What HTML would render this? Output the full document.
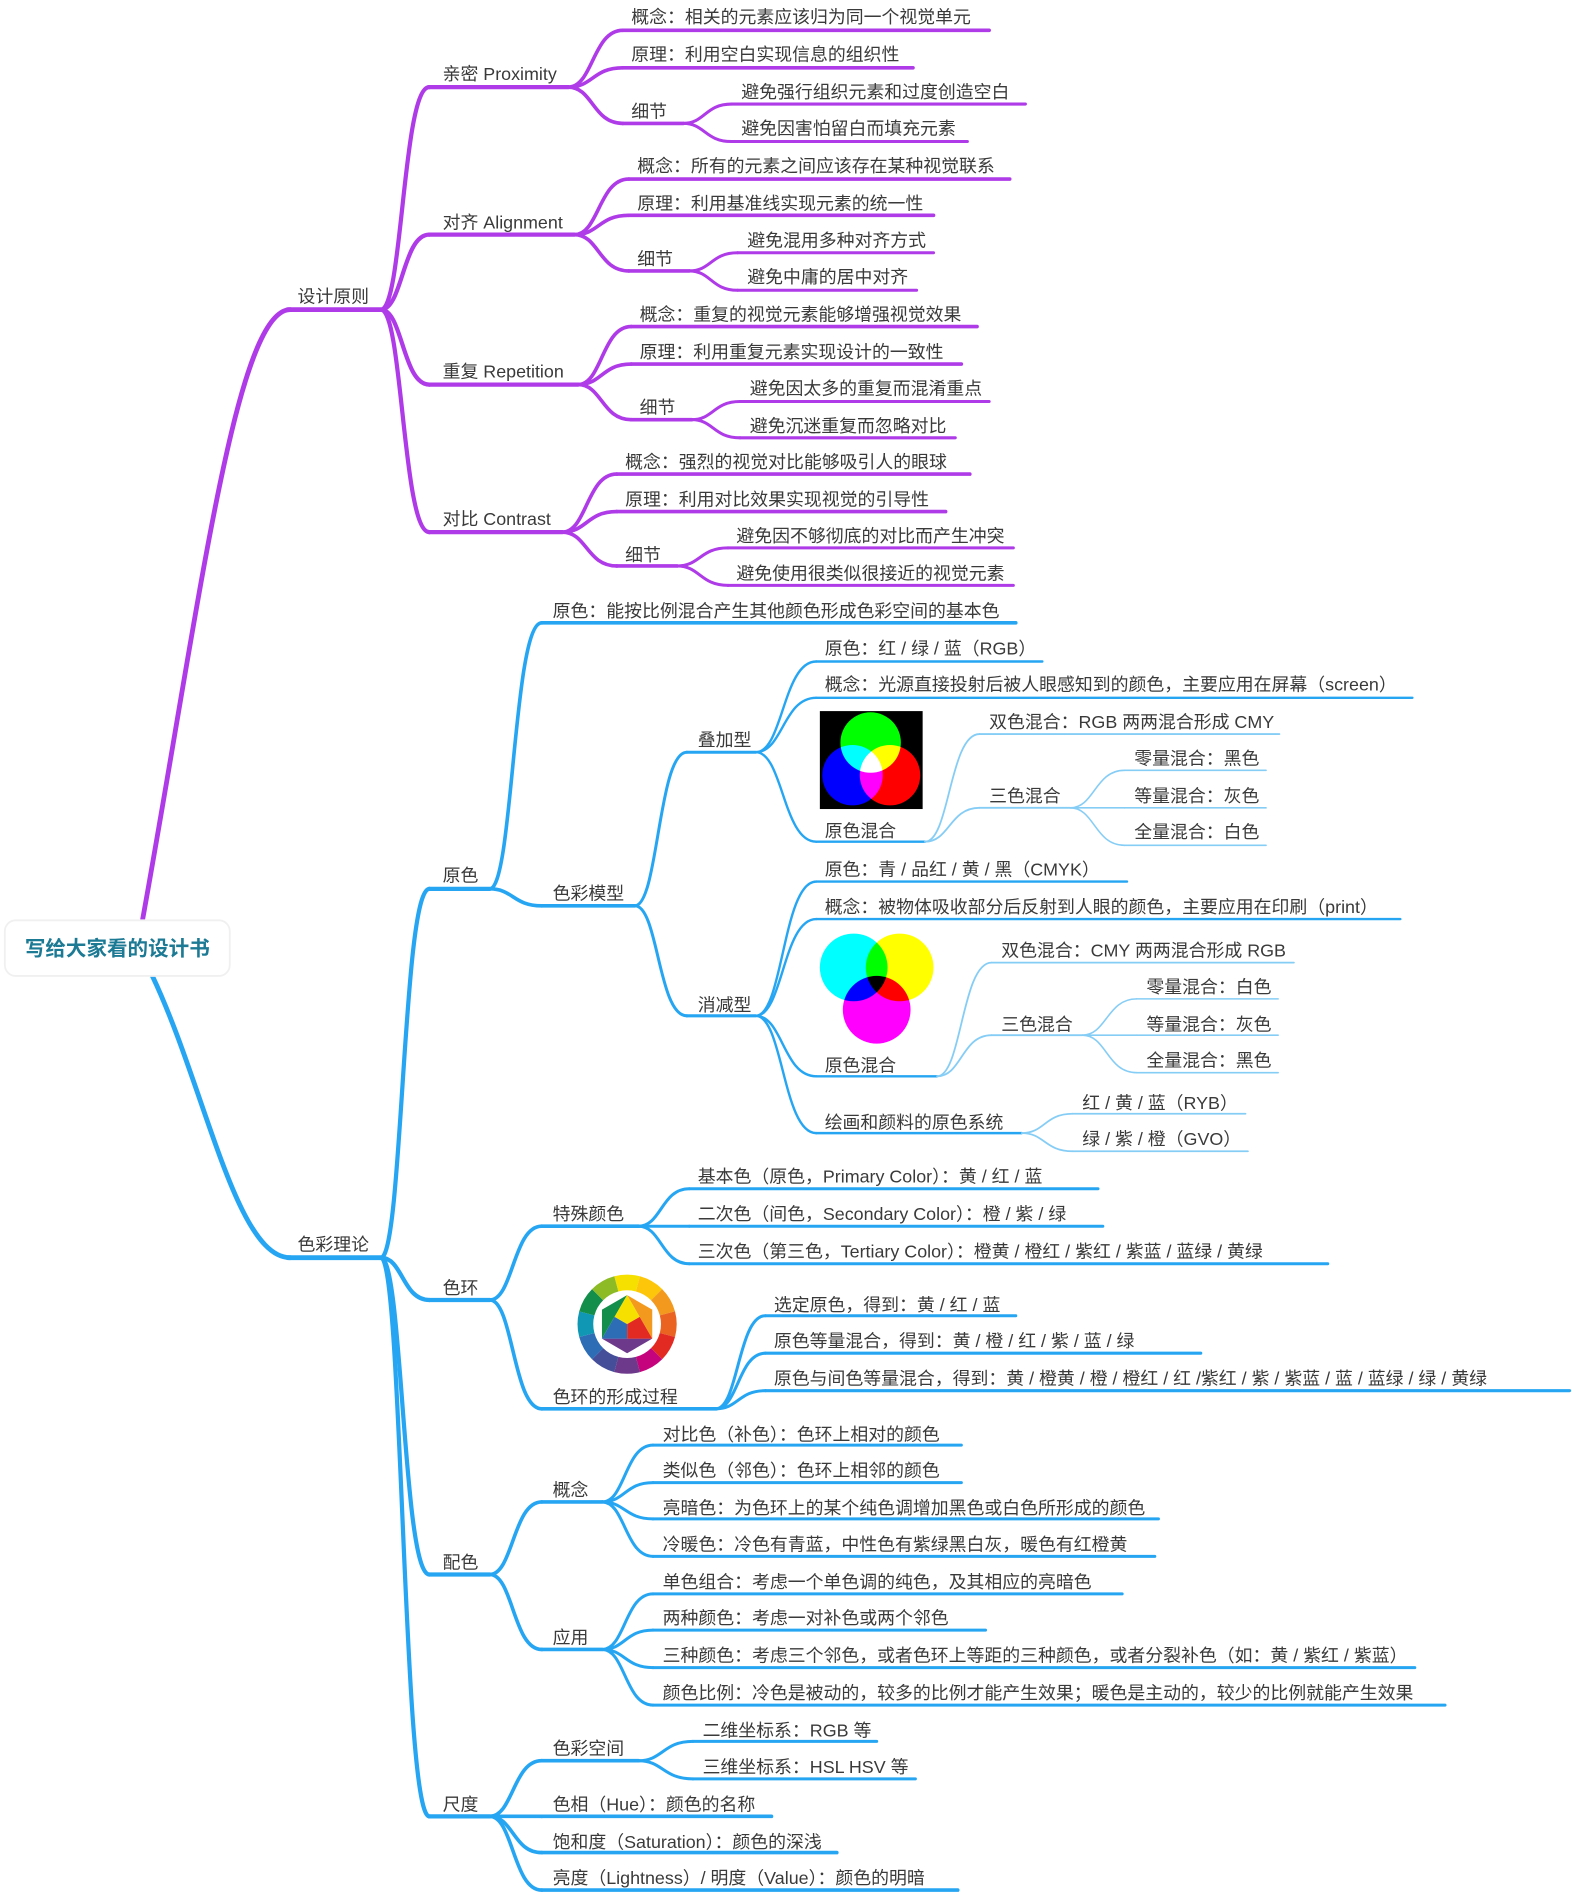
<!DOCTYPE html>
<html><head><meta charset="utf-8"><style>
html,body{margin:0;padding:0;background:#fff;}
#wrap{width:1572px;height:1895px;overflow:hidden;position:relative;}
svg{position:absolute;left:0;top:0;}
text{font-family:"Liberation Sans","Noto Sans CJK SC",sans-serif;font-size:14.8px;fill:#3a3a3a;}
</style></head><body><div id="wrap">
<svg id="s" width="1572" height="1895" viewBox="0 0 1300 1567">
<g id="edges" fill="none" stroke-linecap="round"></g>
<rect x="678" y="588" width="85" height="81" fill="#000"/>
<g style="isolation:isolate">
<circle cx="720" cy="614" r="25" fill="#00ff00" style="mix-blend-mode:screen"/>
<circle cx="705" cy="641" r="25" fill="#0000ff" style="mix-blend-mode:screen"/>
<circle cx="736" cy="641" r="25" fill="#ff0000" style="mix-blend-mode:screen"/>
</g>
<g style="isolation:isolate">
<circle cx="706" cy="800" r="28" fill="#00ffff" style="mix-blend-mode:multiply"/>
<circle cx="744" cy="800" r="28" fill="#ffff00" style="mix-blend-mode:multiply"/>
<circle cx="725" cy="835" r="28" fill="#ff00ff" style="mix-blend-mode:multiply"/>
</g>
<g id="wheel"></g>
<rect x="4" y="761" width="186" height="46" rx="9" fill="#fff" stroke="#f0f0f0" stroke-width="1.5"/>
<text x="97" y="790" text-anchor="middle" style="font-size:17px;font-weight:bold;fill:#1d7a94">写给大家看的设计书</text>

<text x="246" y="250">设计原则</text>
<text x="366" y="66">亲密 Proximity</text>
<text x="522" y="19">概念：相关的元素应该归为同一个视觉单元</text>
<text x="522" y="50">原理：利用空白实现信息的组织性</text>
<text x="522" y="97">细节</text>
<text x="613" y="81">避免强行组织元素和过度创造空白</text>
<text x="613" y="111">避免因害怕留白而填充元素</text>
<text x="366" y="189">对齐 Alignment</text>
<text x="527" y="142">概念：所有的元素之间应该存在某种视觉联系</text>
<text x="527" y="173">原理：利用基准线实现元素的统一性</text>
<text x="527" y="219">细节</text>
<text x="618" y="204">避免混用多种对齐方式</text>
<text x="618" y="234">避免中庸的居中对齐</text>
<text x="366" y="312">重复 Repetition</text>
<text x="529" y="265">概念：重复的视觉元素能够增强视觉效果</text>
<text x="529" y="296">原理：利用重复元素实现设计的一致性</text>
<text x="529" y="342">细节</text>
<text x="620" y="326">避免因太多的重复而混淆重点</text>
<text x="620" y="357">避免沉迷重复而忽略对比</text>
<text x="366" y="434">对比 Contrast</text>
<text x="517" y="387">概念：强烈的视觉对比能够吸引人的眼球</text>
<text x="517" y="418">原理：利用对比效果实现视觉的引导性</text>
<text x="517" y="464">细节</text>
<text x="609" y="448">避免因不够彻底的对比而产生冲突</text>
<text x="609" y="479">避免使用很类似很接近的视觉元素</text>

<text x="246" y="1034">色彩理论</text>
<text x="366" y="729">原色</text>
<text x="457" y="510">原色：能按比例混合产生其他颜色形成色彩空间的基本色</text>
<text x="457" y="744">色彩模型</text>
<text x="577" y="617">叠加型</text>
<text x="682" y="541">原色：红 / 绿 / 蓝（RGB）</text>
<text x="682" y="571">概念：光源直接投射后被人眼感知到的颜色，主要应用在屏幕（screen）</text>
<text x="682" y="692">原色混合</text>
<text x="818" y="602">双色混合：RGB 两两混合形成 CMY</text>
<text x="818" y="663">三色混合</text>
<text x="938" y="632">零量混合：黑色</text>
<text x="938" y="663">等量混合：灰色</text>
<text x="938" y="693">全量混合：白色</text>
<text x="577" y="836">消减型</text>
<text x="682" y="724">原色：青 / 品红 / 黄 / 黑（CMYK）</text>
<text x="682" y="755">概念：被物体吸收部分后反射到人眼的颜色，主要应用在印刷（print）</text>
<text x="682" y="886">原色混合</text>
<text x="828" y="791">双色混合：CMY 两两混合形成 RGB</text>
<text x="828" y="852">三色混合</text>
<text x="948" y="821">零量混合：白色</text>
<text x="948" y="852">等量混合：灰色</text>
<text x="948" y="882">全量混合：黑色</text>
<text x="682" y="933">绘画和颜料的原色系统</text>
<text x="895" y="917">红 / 黄 / 蓝（RYB）</text>
<text x="895" y="947">绿 / 紫 / 橙（GVO）</text>
<text x="366" y="1070">色环</text>
<text x="457" y="1009">特殊颜色</text>
<text x="577" y="978">基本色（原色，Primary Color）：黄 / 红 / 蓝</text>
<text x="577" y="1009">二次色（间色，Secondary Color）：橙 / 紫 / 绿</text>
<text x="577" y="1040">三次色（第三色，Tertiary Color）：橙黄 / 橙红 / 紫红 / 紫蓝 / 蓝绿 / 黄绿</text>
<text x="457" y="1160">色环的形成过程</text>
<text x="640" y="1084">选定原色，得到：黄 / 红 / 蓝</text>
<text x="640" y="1114">原色等量混合，得到：黄 / 橙 / 红 / 紫 / 蓝 / 绿</text>
<text x="640" y="1145">原色与间色等量混合，得到：黄 / 橙黄 / 橙 / 橙红 / 红 /紫红 / 紫 / 紫蓝 / 蓝 / 蓝绿 / 绿 / 黄绿</text>
<text x="366" y="1297">配色</text>
<text x="457" y="1237">概念</text>
<text x="548" y="1191">对比色（补色）：色环上相对的颜色</text>
<text x="548" y="1221">类似色（邻色）：色环上相邻的颜色</text>
<text x="548" y="1252">亮暗色：为色环上的某个纯色调增加黑色或白色所形成的颜色</text>
<text x="548" y="1282">冷暖色：冷色有青蓝，中性色有紫绿黑白灰，暖色有红橙黄</text>
<text x="457" y="1359">应用</text>
<text x="548" y="1313">单色组合：考虑一个单色调的纯色，及其相应的亮暗色</text>
<text x="548" y="1343">两种颜色：考虑一对补色或两个邻色</text>
<text x="548" y="1374">三种颜色：考虑三个邻色，或者色环上等距的三种颜色，或者分裂补色（如：黄 / 紫红 / 紫蓝）</text>
<text x="548" y="1405">颜色比例：冷色是被动的，较多的比例才能产生效果；暖色是主动的，较少的比例就能产生效果</text>
<text x="366" y="1497">尺度</text>
<text x="457" y="1451">色彩空间</text>
<text x="581" y="1436">二维坐标系：RGB 等</text>
<text x="581" y="1466">三维坐标系：HSL HSV 等</text>
<text x="457" y="1497">色相（Hue）：颜色的名称</text>
<text x="457" y="1528">饱和度（Saturation）：颜色的深浅</text>
<text x="457" y="1558">亮度（Lightness）/ 明度（Value）：颜色的明暗</text>
</svg>
</div>
<script>
var P='#ae3ae8',B='#26a6f2',L='#86cdf6';
var N={};
var D=[
[1,null,256,238,315,4,P],
[2,1,72,355,470,3.5,P],[3,2,25,515,818,3,P],[4,2,56,515,755,3,P],[5,2,102,515,565,3,P],[6,5,86,605,848,2.5,P],[7,5,117,605,800,2.5,P],
[8,1,194,355,475,3.5,P],[9,8,148,520,835,3,P],[10,8,178,520,772,3,P],[11,8,224,520,570,3,P],[12,11,209,610,772,2.5,P],[13,11,240,610,758,2.5,P],
[14,1,318,355,478,3.5,P],[15,14,270,522,808,3,P],[16,14,301,522,795,3,P],[17,14,347,522,572,3,P],[18,17,332,612,818,2.5,P],[19,17,362,612,790,2.5,P],
[20,1,440,355,465,3.5,P],[21,20,392,510,802,3,P],[22,20,423,510,782,3,P],[23,20,468,510,560,3,P],[24,23,453,602,838,2.5,P],[25,23,484,602,838,2.5,P],
[30,null,1040,238,315,4,B],
[31,30,735,355,405,3.5,B],[32,31,515,448,840,3,B],[33,31,749,448,525,3,B],
[34,33,622,568,625,2.5,B],[35,34,547,675,862,2,B],[36,34,577,675,1168,2,B],[37,34,696,675,765,2,B],
[38,37,607,810,1058,1.5,L],[39,37,668,810,885,1.5,L],[40,39,637,930,1047,1.3,L],[41,39,668,930,1047,1.3,L],[42,39,699,930,1047,1.3,L],
[43,33,840,568,625,2.5,B],[44,43,729,675,932,2,B],[45,43,760,675,1158,2,B],[46,43,890,675,775,2,B],[47,43,937,675,845,2,B],
[48,46,796,820,1070,1.5,L],[49,46,856,820,895,1.5,L],[50,49,826,940,1057,1.3,L],[51,49,856,940,1057,1.3,L],[52,49,887,940,1057,1.3,L],
[53,47,921,887,1030,1.5,L],[54,47,952,887,1032,1.5,L],
[55,30,1075,355,405,3.5,B],[56,55,1014,448,528,3,B],[57,56,983,570,908,2.5,B],[58,56,1014,570,912,2.5,B],[59,56,1045,570,1098,2.5,B],
[60,55,1165,448,592,3,B],[61,60,1088,633,840,2.5,B],[62,60,1119,633,993,2.5,B],[63,60,1150,633,1298,2.5,B],
[64,30,1302,355,405,3.5,B],[65,64,1242,448,498,3,B],[66,65,1195,540,795,2.5,B],[67,65,1226,540,795,2.5,B],[68,65,1256,540,958,2.5,B],[69,65,1287,540,955,2.5,B],
[70,64,1364,448,498,3,B],[71,70,1318,540,928,2.5,B],[72,70,1348,540,815,2.5,B],[73,70,1379,540,1170,2.5,B],[74,70,1410,540,1195,2.5,B],
[75,30,1502,355,405,3.5,B],[76,75,1456,448,528,3,B],[77,76,1440,573,725,2.5,B],[78,76,1471,573,757,2.5,B],
[79,75,1502,448,638,3,B],[80,75,1532,448,692,3,B],[81,75,1563,448,792,3,B]
];
var g=document.getElementById('edges'),h='';
function p(d,c,w){h+='<path d="'+d+'" stroke="'+c+'" stroke-width="'+w+'"/>';}
D.forEach(function(n){N[n[0]]=n;});
D.forEach(function(n){
 var y=n[2],x0=n[3],x1=n[4],w=n[5],c=n[6];
 p('M'+x0+' '+y+'H'+x1,c,w);
 if(n[1]!==null){var q=N[n[1]],px=q[4],py=q[2],m=px+(x0-px)*0.45;
  p('M'+px+' '+py+'C'+m+' '+py+','+m+' '+y+','+x0+' '+y,c,w);}
});
p('M118 760C165 500,195 256,240 256',P,4);
p('M126 807C170 900,195 1040,240 1040',B,4);
g.innerHTML=h;
var cx=518.6,cy=1095,R=41,r=28,H=24,w='';
var cols=['#f5e000','#fdc60b','#f39a1e','#ea6320','#e32a22','#c5037d','#6d398b','#444e99','#2c6db6','#1097b3','#138f4b','#8cbb26'];
function pt(a,rr){a=(a-90)*Math.PI/180;return [cx+rr*Math.cos(a),cy+rr*Math.sin(a)];}
for(var i=0;i<12;i++){var a0=i*30-15,a1=a0+30,A=pt(a0,R),Bq=pt(a1,R),C=pt(a1,r),E=pt(a0,r);
 w+='<path d="M'+A+'A'+R+' '+R+' 0 0 1 '+Bq+'L'+C+'A'+r+' '+r+' 0 0 0 '+E+'Z" fill="'+cols[i]+'"/>';}
var V=[];for(var k=0;k<6;k++)V.push(pt(k*60,H));
function mid(a,b){return[(a[0]+b[0])/2,(a[1]+b[1])/2];}
function poly(ps,f){w+='<polygon points="'+ps.map(function(q){return q.join(',')}).join(' ')+'" fill="'+f+'"/>';}
poly([V[0],V[1],V[2]],'#f39a1e');poly([V[2],V[3],V[4]],'#6d398b');poly([V[4],V[5],V[0]],'#138f4b');
var Cc=[cx,cy],m02=mid(V[0],V[2]),m24=mid(V[2],V[4]),m40=mid(V[4],V[0]);
poly([V[0],m02,Cc,m40],'#f5e000');poly([V[2],m24,Cc,m02],'#e32a22');poly([V[4],m40,Cc,m24],'#2c6db6');
document.getElementById('wheel').innerHTML=w;
</script>
</body></html>
